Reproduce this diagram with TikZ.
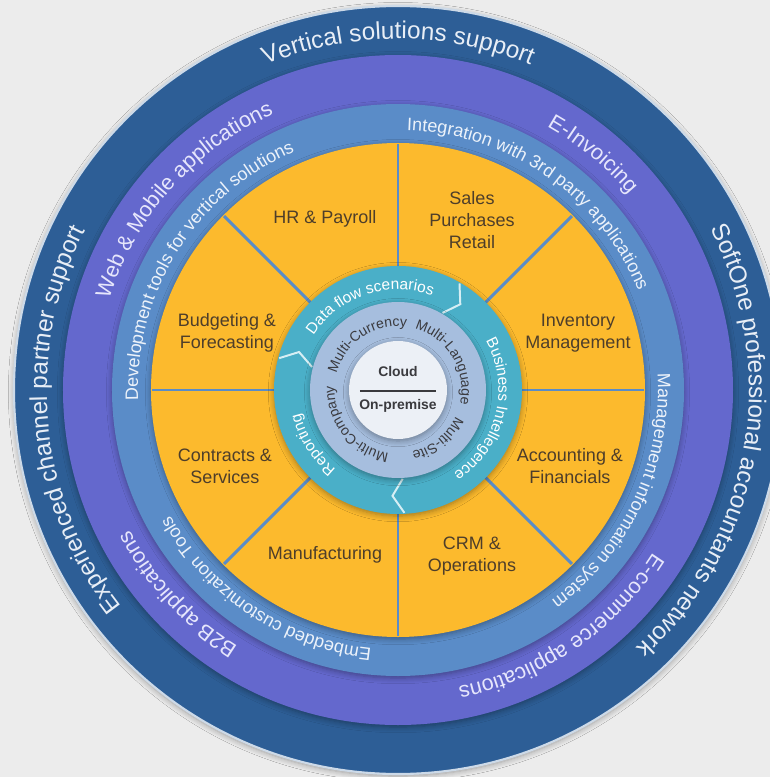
\documentclass[tikz,border=0pt]{standalone}
\usepackage{fontspec}
\setmainfont{Liberation Sans}
\usetikzlibrary{decorations.text,shadows.blur}
\definecolor{bgrey}{RGB}{236,236,236}
\definecolor{ringnavy}{RGB}{45,94,150}
\definecolor{ringviolet}{RGB}{100,104,205}
\definecolor{ringsky}{RGB}{90,140,200}
\definecolor{segyellow}{RGB}{252,186,45}
\definecolor{ringteal}{RGB}{74,175,200}
\definecolor{ringsilver}{RGB}{166,190,222}
\definecolor{corewhite}{RGB}{236,240,246}
\definecolor{rim}{RGB}{205,218,232}
\definecolor{labelbrown}{RGB}{78,62,42}
\definecolor{coregrey}{RGB}{58,58,62}
\definecolor{outtxt}{RGB}{232,238,246}
\definecolor{violettxt}{RGB}{230,230,252}
\definecolor{skytxt}{RGB}{236,242,250}
\definecolor{chevwhite}{RGB}{214,238,244}
\newcommand\rfOuter{\fontsize{17.3}{20}\selectfont}
\newcommand\rfViolet{\fontsize{15.4}{18}\selectfont}
\newcommand\rfSky{\fontsize{12.8}{15}\selectfont}
\newcommand\rfTeal{\fontsize{11}{13}\selectfont}
\newcommand\rfSilver{\fontsize{10}{12}\selectfont}
\tikzset{
  disk/.style={blur shadow={shadow blur steps=6, shadow blur radius=4pt, shadow xshift=0pt, shadow yshift=-1.5pt, shadow opacity=35}},
  ringtxt/.style={decorate, decoration={text along path, text align=center, text color=#1}},
  divider/.style={draw=ringsky, line width=2.1pt},
  chevron/.style={draw=chevwhite, line width=1.4pt, line join=miter},
  seglabel/.style={align=center, text=labelbrown, font=\fontsize{12.8}{15.6}\selectfont},
  core/.style={text=coregrey, font=\fontsize{9.9}{12}\selectfont\bfseries},
  sepline/.style={draw=coregrey, line width=0.8pt}
}

\begin{document}
\begin{tikzpicture}[x=0.025cm, y=0.025cm]
  \useasboundingbox (-398,-387) rectangle (372,390);
  \clip (-398,-387) rectangle (372,390);
  \fill[bgrey] (-398,-387) rectangle (372,390);

  % rings, outside in
  \path[disk, fill=ringnavy, draw=rim, line width=1.5pt] (0,0) circle (384);
  \path[disk, fill=ringviolet] (0,0) circle (335);
  \path[disk, fill=ringsky] (0,0) circle (286);
  \path[disk, fill=segyellow] (0,0) circle (247);
  \foreach \a in {0,45,...,315}
    \draw[divider] (\a:118) -- (\a:246);
  \path[disk, fill=ringteal] (0,0) circle (124);
  \foreach \a in {54,-93,159}
    \draw[chevron] ({\a+6}:123) -- (\a:106) -- ({\a+6}:89);
  \path[disk, fill=ringsilver] (0,0) circle (88);
  \path[disk, fill=corewhite] (0,0) circle (49);

  % outer ring
  \path[ringtxt=outtxt, decoration={text={|\rfOuter|Vertical solutions support}}] (150:351) arc[start angle=150, end angle=30, radius=351];
  \path[ringtxt=outtxt, decoration={text={|\rfOuter|SoftOne professional accountants network}}] (50:351) arc[start angle=50, end angle=-70, radius=351];
  \path[ringtxt=outtxt, decoration={text={|\rfOuter|Experienced channel partner support}}] (245.5:351) arc[start angle=245.5, end angle=125.5, radius=351];

  % violet ring
  \path[ringtxt=violettxt, decoration={text={|\rfViolet|Web {\&} Mobile applications}}] (198.4:302.7) arc[start angle=198.4, end angle=78.4, radius=302.7];
  \path[ringtxt=violettxt, decoration={text={|\rfViolet|E-Invoicing}}] (110.4:302.7) arc[start angle=110.4, end angle=-9.6, radius=302.7];
  \path[ringtxt=violettxt, decoration={text={|\rfViolet|E-commerce applications}}] (4.5:302.7) arc[start angle=4.5, end angle=-115.5, radius=302.7];
  \path[ringtxt=violettxt, decoration={text={|\rfViolet|B2B applications}}] (-77.2:302.7) arc[start angle=-77.2, end angle=-197.2, radius=302.7];

  % sky ring
  \path[ringtxt=skytxt, decoration={text={|\rfSky|Development tools for vertical solutions}}] (207.9:260) arc[start angle=207.9, end angle=87.9, radius=260];
  \path[ringtxt=skytxt, decoration={text={|\rfSky|Integration with 3rd party applications}}] (115.2:260) arc[start angle=115.2, end angle=-4.8, radius=260];
  \path[ringtxt=skytxt, decoration={text={|\rfSky|Management information system}}] (34.9:260) arc[start angle=34.9, end angle=-85.1, radius=260];
  \path[ringtxt=skytxt, decoration={text={|\rfSky|Embedded customization Tools}}] (-63.5:260) arc[start angle=-63.5, end angle=-183.5, radius=260];

  % segments
  \node[seglabel] (hr) at (-73,171) {HR \& Payroll};
  \node[seglabel] (sales) at (74,170) {Sales\\Purchases\\Retail};
  \node[seglabel] (inventory) at (180,57) {Inventory\\Management};
  \node[seglabel] (accounting) at (172,-76) {Accounting \&\\Financials};
  \node[seglabel] (crm) at (74,-166) {CRM \&\\Operations};
  \node[seglabel] (manufacturing) at (-73,-165) {Manufacturing};
  \node[seglabel] (contracts) at (-173,-76) {Contracts \&\\Services};
  \node[seglabel] (budgeting) at (-171,57) {Budgeting \&\\Forecasting};

  % teal ring
  \path[ringtxt=white, decoration={text={|\rfTeal|Data flow scenarios}}] (168.6:100.5) arc[start angle=168.6, end angle=48.6, radius=100.5];
  \path[ringtxt=white, decoration={text={|\rfTeal|Business Intellegence}}] (46.4:100.5) arc[start angle=46.4, end angle=-73.6, radius=100.5];
  \path[ringtxt=white, decoration={text={|\rfTeal|Reporting}}] (-87.3:100.5) arc[start angle=-87.3, end angle=-207.3, radius=100.5];

  % silver ring
  \path[ringtxt=coregrey, decoration={text={|\rfSilver|Multi-Currency}}] (183.4:63.5) arc[start angle=183.4, end angle=63.4, radius=63.5];
  \path[ringtxt=coregrey, decoration={text={|\rfSilver|Multi-Language}}] (90.9:63.5) arc[start angle=90.9, end angle=-29.1, radius=63.5];
  \path[ringtxt=coregrey, decoration={text={|\rfSilver|Multi-Site}}] (9:63.5) arc[start angle=9, end angle=-111, radius=63.5];
  \path[ringtxt=coregrey, decoration={text={|\rfSilver|Multi-Company}}] (-80.8:63.5) arc[start angle=-80.8, end angle=-200.8, radius=63.5];

  % core
  \node[core] (cloud) at (0,18) {Cloud};
  \node[core] (onprem) at (0,-16) {On-premise};
  \draw[sepline] (-38,-1) -- (38,-1);
\end{tikzpicture}
\end{document}
